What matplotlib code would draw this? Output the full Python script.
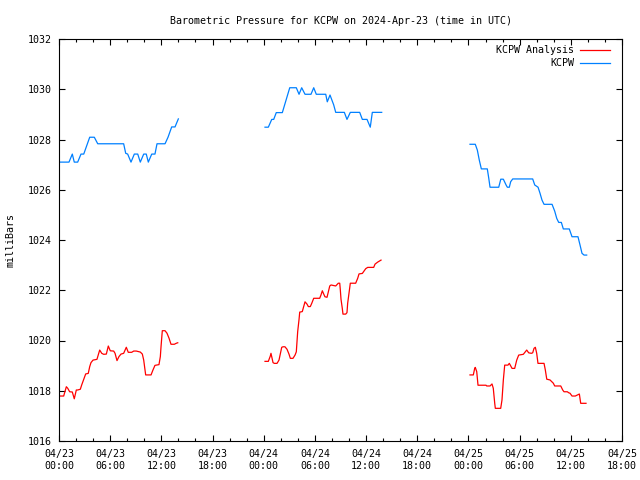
import numpy as np
import pandas as pd
import matplotlib
matplotlib.use("Agg")
import matplotlib.pyplot as plt
import matplotlib.dates as mdates

# hours after 2024-04-23 00:00 UTC, pressure in mb
obs_h1 = [0.12, 1.17, 1.56, 1.79, 2.19, 2.58, 2.90, 3.60, 4.14, 4.54, 7.58, 7.82, 8.05, 8.44,
          8.83, 9.23, 9.53, 9.93, 10.23, 10.47, 10.87, 11.25, 11.49, 12.43, 12.78, 13.21, 13.60, 13.99]
obs_p1 = [1027.10, 1027.10, 1027.42, 1027.10, 1027.10, 1027.42, 1027.42, 1028.09, 1028.09, 1027.83,
          1027.83, 1027.45, 1027.42, 1027.10, 1027.42, 1027.42, 1027.10, 1027.42, 1027.42, 1027.10,
          1027.42, 1027.42, 1027.83, 1027.83, 1028.09, 1028.50, 1028.50, 1028.82]
obs_h2 = [24.15, 24.54, 24.94, 25.17, 25.47, 26.18, 27.05, 27.82, 28.14, 28.45, 28.84, 29.54, 29.86,
          30.16, 31.27, 31.45, 31.77, 32.20, 32.44, 33.45, 33.76, 34.15, 35.25, 35.56, 36.11, 36.49,
          36.73, 37.83]
obs_p2 = [1028.49, 1028.49, 1028.80, 1028.80, 1029.07, 1029.07, 1030.06, 1030.06, 1029.80, 1030.06,
          1029.80, 1029.80, 1030.06, 1029.80, 1029.80, 1029.50, 1029.77, 1029.38, 1029.08, 1029.08,
          1028.80, 1029.08, 1029.08, 1028.80, 1028.80, 1028.49, 1029.08, 1029.08]
obs_h3 = [48.18, 48.80, 49.04, 49.27, 49.51, 50.21, 50.38, 50.53, 51.55, 51.79, 52.09, 52.41, 52.56,
          52.79, 52.95, 53.19, 55.53, 55.77, 56.16, 56.39, 56.62, 56.86, 57.80, 58.11, 58.35, 58.58,
          58.89, 59.12, 59.82, 60.14, 60.84, 61.08, 61.31, 61.55, 61.86]
obs_p3 = [1027.81, 1027.81, 1027.58, 1027.18, 1026.83, 1026.83, 1026.46, 1026.10, 1026.10, 1026.42,
          1026.42, 1026.19, 1026.10, 1026.10, 1026.32, 1026.43, 1026.43, 1026.19, 1026.10, 1025.86,
          1025.59, 1025.42, 1025.42, 1025.15, 1024.86, 1024.70, 1024.70, 1024.44, 1024.44, 1024.13,
          1024.13, 1023.80, 1023.47, 1023.40, 1023.40]

ana_h1 = [0.12, 0.55, 0.86, 1.02, 1.25, 1.56, 1.79, 2.03, 2.19, 2.50, 2.66, 2.90, 3.13, 3.43, 3.60,
          3.75, 3.99, 4.45, 4.77, 5.01, 5.24, 5.55, 5.78, 6.01, 6.41, 6.57, 6.80, 7.03, 7.27, 7.58,
          7.89, 8.12, 8.52, 8.76, 9.06, 9.53, 9.77, 9.93, 10.08, 10.16, 10.79, 11.02, 11.25, 11.72,
          11.88, 11.96, 12.11, 12.43, 12.66, 12.90, 13.13, 13.52, 13.75, 13.92]
ana_p1 = [1017.79, 1017.79, 1018.16, 1018.10, 1017.96, 1017.95, 1017.68, 1018.03, 1018.03, 1018.06,
          1018.23, 1018.46, 1018.67, 1018.69, 1018.96, 1019.12, 1019.22, 1019.25, 1019.62, 1019.49,
          1019.45, 1019.46, 1019.78, 1019.59, 1019.58, 1019.49, 1019.20, 1019.36, 1019.46, 1019.49,
          1019.73, 1019.53, 1019.53, 1019.58, 1019.58, 1019.54, 1019.46, 1019.22, 1018.83, 1018.63,
          1018.63, 1018.83, 1019.01, 1019.04, 1019.36, 1019.75, 1020.39, 1020.39, 1020.29, 1020.09,
          1019.85, 1019.85, 1019.89, 1019.91]
ana_h2 = [24.15, 24.54, 24.77, 24.85, 25.09, 25.24, 25.56, 25.79, 25.94, 26.11, 26.26, 26.49, 26.73,
          26.96, 27.12, 27.43, 27.67, 27.82, 27.90, 27.98, 28.14, 28.22, 28.52, 28.69, 28.84, 29.07,
          29.23, 29.46, 29.63, 29.86, 30.56, 30.71, 30.87, 31.03, 31.18, 31.42, 31.57, 31.74, 31.89,
          32.44, 32.74, 32.91, 32.98, 33.06, 33.21, 33.29, 33.61, 33.76, 33.84, 33.99, 34.15, 34.78,
          35.02, 35.17, 35.56, 35.96, 36.19, 36.89, 37.05, 37.36, 37.75]
ana_p2 = [1019.17, 1019.17, 1019.38, 1019.49, 1019.12, 1019.09, 1019.09, 1019.22, 1019.46, 1019.73,
          1019.75, 1019.75, 1019.65, 1019.46, 1019.29, 1019.29, 1019.42, 1019.55, 1019.95, 1020.35,
          1020.84, 1021.13, 1021.15, 1021.35, 1021.54, 1021.45, 1021.35, 1021.35, 1021.48, 1021.68,
          1021.68, 1021.81, 1021.98, 1021.85, 1021.74, 1021.72, 1021.94, 1022.17, 1022.21, 1022.17,
          1022.28, 1022.28, 1022.01, 1021.64, 1021.28, 1021.05, 1021.05, 1021.11, 1021.48, 1021.88,
          1022.28, 1022.28, 1022.48, 1022.65, 1022.67, 1022.86, 1022.91, 1022.91, 1023.04, 1023.12,
          1023.20]
ana_h3 = [48.18, 48.57, 48.73, 48.80, 48.97, 49.04, 49.12, 50.06, 50.14, 50.53, 50.76, 50.91, 51.00,
          51.08, 51.15, 51.78, 51.93, 52.09, 52.25, 52.63, 52.79, 52.95, 53.11, 53.42, 53.66, 53.89,
          54.43, 54.67, 54.83, 55.06, 55.37, 55.53, 55.69, 55.84, 56.00, 56.15, 56.86, 57.01, 57.18,
          57.56, 57.80, 57.95, 58.11, 58.82, 59.05, 59.20, 59.59, 59.75, 59.91, 60.14, 60.53, 60.76,
          61.00, 61.16, 61.78]
ana_p3 = [1018.63, 1018.63, 1018.89, 1018.93, 1018.76, 1018.50, 1018.22, 1018.22, 1018.19, 1018.19,
          1018.27, 1018.10, 1017.76, 1017.50, 1017.30, 1017.30, 1017.63, 1018.43, 1019.02, 1019.02,
          1019.09, 1018.99, 1018.89, 1018.89, 1019.22, 1019.42, 1019.45, 1019.55, 1019.62, 1019.51,
          1019.49, 1019.51, 1019.69, 1019.73, 1019.49, 1019.09, 1019.09, 1018.83, 1018.46, 1018.43,
          1018.35, 1018.30, 1018.19, 1018.19, 1018.03, 1017.96, 1017.96, 1017.92, 1017.90, 1017.79,
          1017.79, 1017.83, 1017.87, 1017.50, 1017.50]

start = pd.Timestamp("2024-04-23 00:00")


def join_segments(parts):
    # glue the segments with NaN so the gaps stay empty
    hours, vals = [], []
    for h, p in parts:
        hours += list(h) + [h[-1] + 0.01]
        vals += list(p) + [np.nan]
    t = start + pd.to_timedelta(hours, unit="h")
    return t, np.array(vals)


obs_t, obs_p = join_segments([(obs_h1, obs_p1), (obs_h2, obs_p2), (obs_h3, obs_p3)])
ana_t, ana_p = join_segments([(ana_h1, ana_p1), (ana_h2, ana_p2), (ana_h3, ana_p3)])

plt.rcParams["font.family"] = "DejaVu Sans Mono"
plt.rcParams["font.size"] = 7.2

fig = plt.figure(figsize=(6.4, 4.8), dpi=100)
ax = fig.add_axes([59 / 640, 1 - 441 / 480, 563 / 640, 402 / 480])

ax.plot(ana_t, ana_p, color="#ff0000", lw=0.9, label="KCPW Analysis")
ax.plot(obs_t, obs_p, color="#0080ff", lw=0.9, label="KCPW")

ax.set_xlim(start, start + pd.Timedelta(hours=66))
ax.set_ylim(1016, 1032)
ax.set_yticks(range(1016, 1033, 2))
ax.xaxis.set_major_locator(mdates.HourLocator(byhour=[0, 6, 12, 18]))
ax.xaxis.set_minor_locator(mdates.HourLocator(byhour=range(0, 24, 2)))
ax.xaxis.set_major_formatter(mdates.DateFormatter("%m/%d\n%H:%M"))

ax.tick_params(which="both", direction="in", top=True, right=True, width=0.8, color="black")
ax.tick_params(which="major", length=4.5)
ax.tick_params(which="minor", length=2.3)
ax.tick_params(axis="x", pad=6)
ax.tick_params(axis="y", pad=5)
for s in ax.spines.values():
    s.set_linewidth(0.8)

ax.set_title("Barometric Pressure for KCPW on 2024-Apr-23 (time in UTC)", fontsize=7.2, pad=11)
ax.set_ylabel("milliBars", labelpad=9)

ax.legend(loc="upper right", bbox_to_anchor=(0.986, 0.995), borderaxespad=0,
          frameon=False, markerfirst=False, handlelength=3.0,
          labelspacing=0.3, handletextpad=0.6)

fig.savefig("out.png", dpi=100)
